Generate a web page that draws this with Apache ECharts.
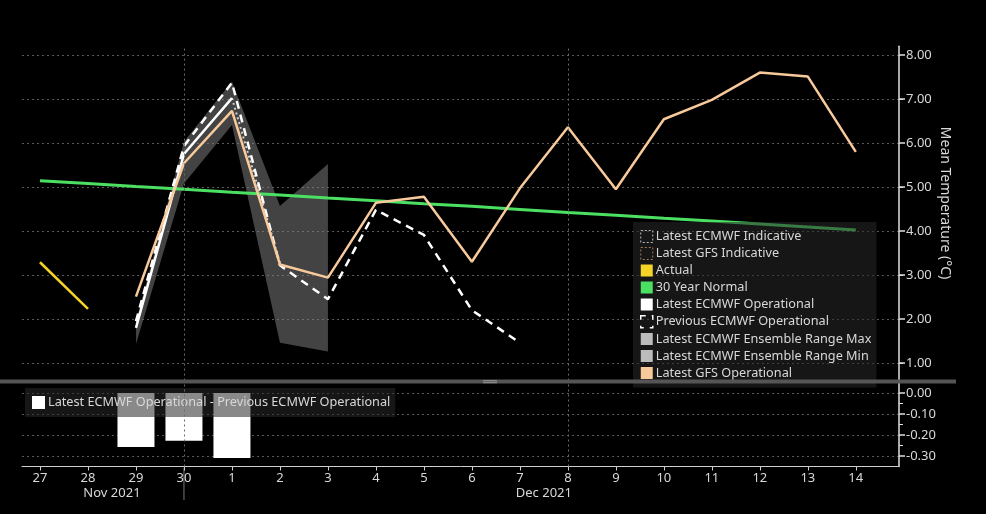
<!DOCTYPE html>
<html>
<head>
<meta charset="utf-8">
<script src="https://cdn.jsdelivr.net/npm/echarts@6/dist/echarts.min.js"></script>
<style>
html, body { margin: 0; padding: 0; background: #000; }
#main { width: 986px; height: 514px; }
</style>
</head>
<body>
<div id="main"></div>
<script>
// day labels, 27 Nov .. 14 Dec
var days = ['27', '28', '29', '30', '1', '2', '3', '4', '5', '6', '7', '8', '9', '10', '11', '12', '13', '14'];
var months = [['Nov 2021', 0, 3], ['Dec 2021', 4, 17]];
var markDays = [3, 11];
var tempTicks = [1, 2, 3, 4, 5, 6, 7, 8];
var diffTicks = [0, -0.1, -0.2, -0.3];

// values per day (null = no value)
var actual    = [3.29, 2.23, null, null, null, null, null, null, null, null, null, null, null, null, null, null, null, null];
var normal    = [5.14, 5.08, 5.01, 4.95, 4.88, 4.82, 4.75, 4.69, 4.62, 4.56, 4.49, 4.42, 4.36, 4.29, 4.23, 4.16, 4.09, 4.02];
var ecmwfOp   = [null, null, 1.80, 5.75, 7.02, null, null, null, null, null, null, null, null, null, null, null, null, null];
var ecmwfInd  = [null, null, null, null, 7.02, 3.28, null, null, null, null, null, null, null, null, null, null, null, null];
var gfsInd    = [null, null, null, null, null, null, null, null, null, null, null, null, null, null, null, null, null, null];
var prevEcmwf = [null, null, 1.95, 5.93, 7.37, 3.22, 2.45, 4.48, 3.91, 2.20, 1.46, null, null, null, null, null, null, null];
var ensMax    = [null, null, 1.95, 6.03, 7.40, 4.57, 5.52, null, null, null, null, null, null, null, null, null, null, null];
var ensMin    = [null, null, 1.43, 5.08, 6.41, 1.46, 1.26, null, null, null, null, null, null, null, null, null, null, null];
var gfsOp     = [null, null, 2.51, 5.54, 6.73, 3.24, 2.94, 4.64, 4.78, 3.30, 4.97, 6.36, 4.95, 6.54, 6.98, 7.60, 7.51, 5.80];
var opDiff    = [null, null, -0.257, -0.227, -0.31, null, null, null, null, null, null, null, null, null, null, null, null, null];

var myChart = echarts.init(document.getElementById('main'));
var font = 'Noto Sans';
var textColor = '#d8d8d8';

function pairs(arr) {
    var out = [];
    arr.forEach(function (v, i) {
        if (v !== null) out.push([i, v]);
    });
    return out;
}

// days that have an ensemble range
var bandIdx = [];
ensMax.forEach(function (v, i) {
    if (v !== null && ensMin[i] !== null) bandIdx.push(i);
});

var dayIdx = days.map(function (d, i) { return i; });

function xAxisFor(gridIndex, show) {
    return {
        type: 'value',
        gridIndex: gridIndex,
        min: -0.375,
        max: 17.9,
        show: show,
        axisLine: { show: true, onZero: false, lineStyle: { color: '#cfcfcf', width: 1 } },
        axisTick: { show: true, customValues: dayIdx, length: 4, lineStyle: { color: '#cfcfcf' } },
        axisLabel: {
            show: true,
            customValues: dayIdx,
            formatter: function (v) { return days[Math.round(v)]; },
            color: textColor, fontFamily: font, fontSize: 13, margin: 5
        },
        splitLine: { show: false }
    };
}

function yAxisFor(gridIndex, min, max, ticks, digits) {
    return {
        type: 'value',
        gridIndex: gridIndex,
        position: 'right',
        min: min,
        max: max,
        axisLine: { show: true, onZero: false, lineStyle: { color: '#e0e0e0', width: 1.5 } },
        axisTick: { show: true, customValues: ticks, length: 6, lineStyle: { color: '#e0e0e0', width: 1.5 } },
        minorTick: { show: true, splitNumber: 2, length: 4, lineStyle: { color: '#e0e0e0', width: 1 } },
        axisLabel: {
            customValues: ticks,
            formatter: function (v) { return v.toFixed(digits); },
            color: textColor, fontFamily: font, fontSize: 13, margin: 7
        },
        splitLine: { show: true, lineStyle: { color: '#5a5a5a', type: [2, 3], width: 1 } }
    };
}

var vLines = {
    silent: true,
    symbol: 'none',
    label: { show: false },
    lineStyle: { color: '#6a6a6a', type: [2, 3], width: 1 },
    data: markDays.map(function (d) { return { xAxis: d }; })
};

option = {
    backgroundColor: '#000',
    animation: false,
    grid: [
        { left: 22, right: 87, top: 46.2, height: 334.4 },
        { left: 22, right: 87, top: 382.5, height: 84 }
    ],
    xAxis: [xAxisFor(0, false), xAxisFor(1, true)],
    yAxis: [yAxisFor(0, 0.6, 8.2, tempTicks, 2), yAxisFor(1, -0.35, 0.05, diffTicks, 2)],
    legend: [
        {
            orient: 'vertical',
            left: 633,
            top: 222,
            icon: 'rect',
            itemWidth: 12,
            itemHeight: 12,
            itemGap: 4,
            padding: [8, 5, 8, 7],
            backgroundColor: 'rgba(40,40,40,0.55)',
            textStyle: { color: textColor, fontFamily: font, fontSize: 12.7, padding: [0, 0, 0, -2] },
            data: [
                { name: 'Latest ECMWF Indicative', itemStyle: { color: 'transparent', borderColor: '#bdbdbd', borderWidth: 1, borderType: [2, 2] } },
                { name: 'Latest GFS Indicative', itemStyle: { color: 'transparent', borderColor: '#a07a55', borderWidth: 1, borderType: [2, 2] } },
                { name: 'Actual', itemStyle: { color: '#f5d327', borderWidth: 0 } },
                { name: '30 Year Normal', itemStyle: { color: '#4ce063', borderWidth: 0 } },
                { name: 'Latest ECMWF Operational', itemStyle: { color: '#ffffff', borderWidth: 0 } },
                { name: 'Previous ECMWF Operational', itemStyle: { color: 'transparent', borderColor: '#ffffff', borderWidth: 1.5, borderType: [5, 6] } },
                { name: 'Latest ECMWF Ensemble Range Max', itemStyle: { color: '#bcbcbc', borderWidth: 0 } },
                { name: 'Latest ECMWF Ensemble Range Min', itemStyle: { color: '#bcbcbc', borderWidth: 0 } },
                { name: 'Latest GFS Operational', itemStyle: { color: '#f8c99a', borderWidth: 0 } }
            ]
        },
        {
            orient: 'horizontal',
            left: 25,
            top: 388,
            icon: 'rect',
            itemWidth: 13,
            itemHeight: 13,
            padding: [8, 5, 8, 7],
            backgroundColor: 'rgba(40,40,40,0.55)',
            textStyle: { color: textColor, fontFamily: font, fontSize: 12.7, padding: [0, 0, 0, -2] },
            data: [{ name: 'Latest ECMWF Operational - Previous ECMWF Operational', itemStyle: { color: '#ffffff' } }]
        }
    ],
    series: [
        {
            name: 'Latest ECMWF Ensemble Range Max',
            type: 'custom', xAxisIndex: 0, yAxisIndex: 0,
            silent: true,
            data: [[bandIdx[0], ensMax[bandIdx[0]]]],
            renderItem: function (params, api) {
                var upper = bandIdx.map(function (i) { return api.coord([i, ensMax[i]]); });
                var lower = bandIdx.slice().reverse().map(function (i) { return api.coord([i, ensMin[i]]); });
                return {
                    type: 'polygon',
                    shape: { points: upper.concat(lower) },
                    style: { fill: 'rgba(128,128,128,0.52)' }
                };
            },
            markLine: vLines
        },
        {
            name: 'Latest ECMWF Ensemble Range Min',
            type: 'line', symbol: 'none', silent: true,
            lineStyle: { width: 0, opacity: 0 },
            data: pairs(ensMin)
        },
        {
            name: '30 Year Normal',
            type: 'line', symbol: 'none',
            lineStyle: { color: '#4ce063', width: 3 },
            data: pairs(normal)
        },
        {
            name: 'Actual',
            type: 'line', symbol: 'none',
            lineStyle: { color: '#f5d327', width: 2.5 },
            data: pairs(actual)
        },
        {
            name: 'Latest GFS Indicative',
            type: 'line', symbol: 'none',
            lineStyle: { color: '#a07a55', width: 2, type: 'dotted' },
            data: pairs(gfsInd)
        },
        {
            name: 'Latest ECMWF Indicative',
            type: 'line', symbol: 'none',
            lineStyle: { color: '#cfcfcf', width: 2, type: [2, 3] },
            data: pairs(ecmwfInd)
        },
        {
            name: 'Previous ECMWF Operational',
            type: 'line', symbol: 'none',
            lineStyle: { color: '#ffffff', width: 2.5, type: [8, 6] },
            data: pairs(prevEcmwf)
        },
        {
            name: 'Latest ECMWF Operational',
            type: 'line', symbol: 'none',
            lineStyle: { color: '#ffffff', width: 2.5 },
            data: pairs(ecmwfOp)
        },
        {
            name: 'Latest GFS Operational',
            type: 'line', symbol: 'none',
            lineStyle: { color: '#f8c99a', width: 2.5 },
            data: pairs(gfsOp)
        },
        {
            name: 'Latest ECMWF Operational - Previous ECMWF Operational',
            type: 'bar', xAxisIndex: 1, yAxisIndex: 1,
            barWidth: 37,
            itemStyle: { color: '#ffffff' },
            data: pairs(opDiff),
            markLine: vLines
        }
    ]
};

myChart.setOption(option);

// separator, axis title, month labels and month divider
var graphics = [
    { type: 'rect', shape: { x: 0, y: 379.5, width: 956, height: 4 }, style: { fill: '#555' }, silent: true, z: 10 },
    { type: 'rect', shape: { x: 483, y: 380.2, width: 14, height: 1 }, style: { fill: '#9a9a9a' }, silent: true, z: 11 },
    { type: 'rect', shape: { x: 483, y: 382.2, width: 14, height: 1 }, style: { fill: '#9a9a9a' }, silent: true, z: 11 },
    {
        type: 'text', x: 945, y: 203, rotation: -Math.PI / 2,
        style: { text: 'Mean Temperature (°C)', fill: textColor, font: '14px "Noto Sans"', align: 'center', verticalAlign: 'middle' }
    }
];
months.forEach(function (m) {
    var cx = myChart.convertToPixel({ xAxisIndex: 1 }, (m[1] + m[2]) / 2);
    graphics.push({
        type: 'text', x: cx, y: 493,
        style: { text: m[0], fill: textColor, font: '13px "Noto Sans"', align: 'center', verticalAlign: 'middle' }
    });
});
var divX = myChart.convertToPixel({ xAxisIndex: 1 }, months[0][2]);
graphics.push({ type: 'line', shape: { x1: divX, y1: 468, x2: divX, y2: 500 }, style: { stroke: '#777', lineWidth: 1 }, silent: true });

myChart.setOption({ graphic: graphics });
</script>
</body>
</html>
